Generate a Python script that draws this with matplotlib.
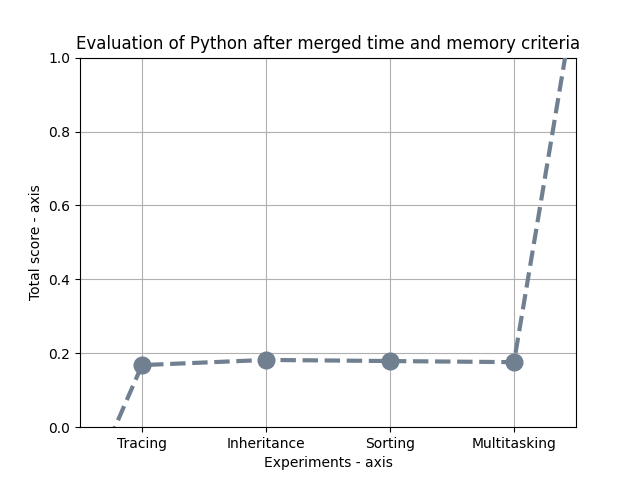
import matplotlib
matplotlib.use("Agg")
import matplotlib.pyplot as plt

categories = ["Tracing", "Inheritance", "Sorting", "Multitasking"]
scores = [0.168, 0.182, 0.179, 0.176]
# extension points beyond the visible axis range
ext_x = [-0.5, 3.5]
ext_y = [-0.217, 1.176]

fig, ax = plt.subplots(figsize=(6.4, 4.8), dpi=100)
xs = list(range(len(categories)))
line_x = [ext_x[0]] + xs + [ext_x[1]]
line_y = [ext_y[0]] + scores + [ext_y[1]]
ax.plot(line_x, line_y, linestyle="--", color="slategray", linewidth=3, zorder=3)
ax.plot(xs, scores, linestyle="none", marker="o", markersize=12, color="slategray", zorder=4)
ax.set_xticks(xs)
ax.set_xticklabels(categories)
ax.set_xlim(-0.5, 3.5)
ax.set_ylim(0, 1)
ax.grid(True)
ax.set_axisbelow(True)
ax.set_title("Evaluation of Python after merged time and memory criteria")
ax.set_xlabel("Experiments - axis")
ax.set_ylabel("Total score - axis")
fig.savefig("out.png")
